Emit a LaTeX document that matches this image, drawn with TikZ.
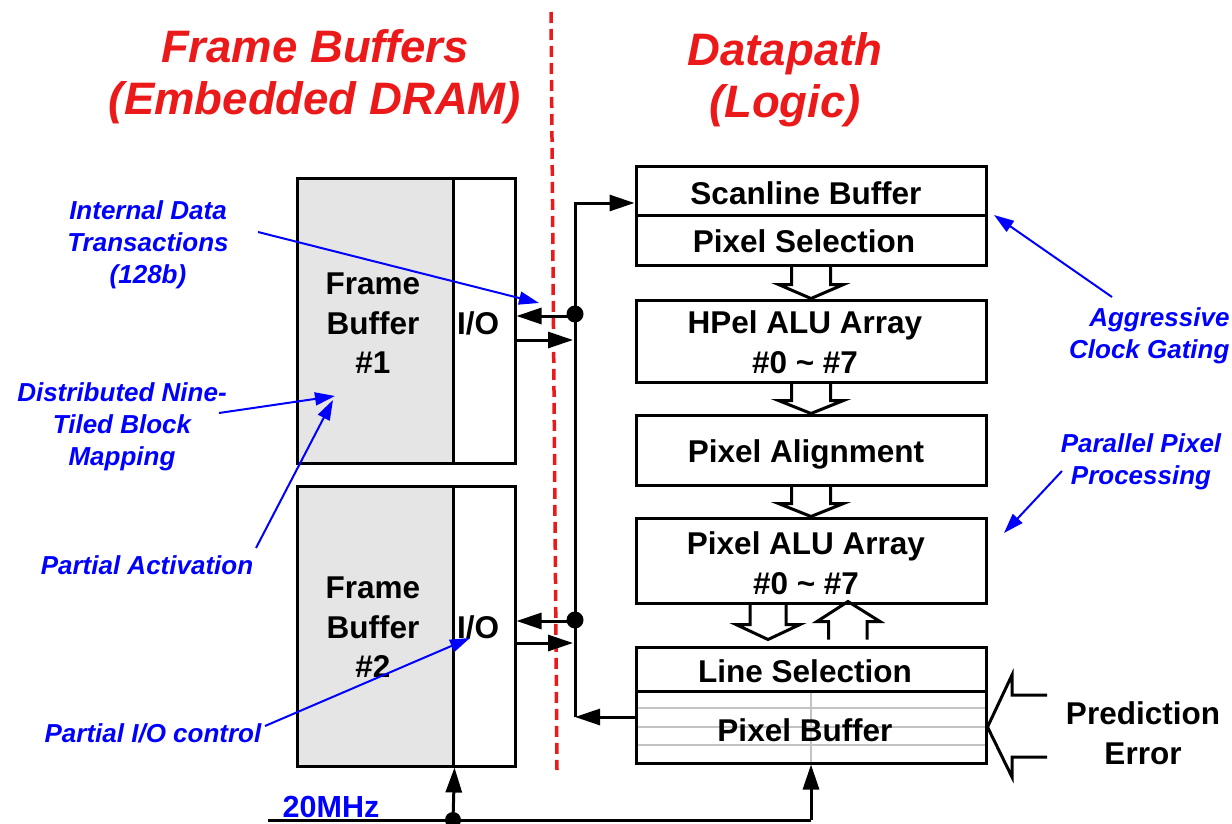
\documentclass[tikz,border=0pt]{standalone}
\usepackage{fontspec}
\setmainfont{Liberation Sans}
\usetikzlibrary{arrows.meta}
\definecolor{tred}{RGB}{235,25,25}
\definecolor{tblue}{RGB}{0,0,255}
\definecolor{fbgray}{RGB}{229,229,229}
\definecolor{gridgray}{RGB}{195,195,195}
\begin{document}
\begin{tikzpicture}[x=1pt,y=-1pt,line join=miter,
  blk/.style={draw,line width=3pt,minimum width=350pt,inner sep=0pt},
  fbk/.style={draw,line width=3pt,inner sep=0pt},
  txt/.style={inner sep=0pt,align=center,font=\fontsize{31.5}{39.5}\selectfont\bfseries},
  arr/.style={line width=3pt,-{Triangle[length=25pt,width=16pt]}},
  barr/.style={tblue,line width=2pt,-{Triangle[length=20pt,width=13pt]}},
  note/.style={tblue,align=center,font=\fontsize{26}{32}\selectfont\bfseries\itshape},
  ttl/.style={tred,align=center,font=\fontsize{45.5}{52}\selectfont\bfseries\itshape},
  hollow/.style={line width=3pt}]
\useasboundingbox (0,0) rectangle (1232,824);

% titles
\node[ttl] (t1) at (315,77) {Frame Buffers\\(Embedded DRAM)};
\node[ttl] (t2) at (785,80) {Datapath\\(Logic)};

% red divider
\draw[tred,line width=3.5pt,dash pattern=on 11pt off 6pt] (551,12) -- (557,770);

% frame buffers
\node[fbk,fill=fbgray,minimum width=156pt,minimum height=284pt] (fb1) at (375,321) {};
\node[fbk,minimum width=62pt,minimum height=284pt] (io1) at (484,321) {};
\node[fbk,fill=fbgray,minimum width=156pt,minimum height=280pt] (fb2) at (375,626) {};
\node[fbk,minimum width=62pt,minimum height=280pt] (io2) at (484,626) {};
\node[txt] (fb1t) at ([xshift=-2pt,yshift=-2.5pt]fb1.center) {Frame\\Buffer\\\#1};
\node[txt] (io1t) at ([xshift=-6pt,yshift=-2pt]io1.center) {I/O};
\node[txt] (fb2t) at ([xshift=-2pt,yshift=-1.5pt]fb2.center) {Frame\\Buffer\\\#2};
\node[txt] (io2t) at ([xshift=-6pt,yshift=-1pt]io2.center) {I/O};

% datapath blocks
\node[blk,minimum height=48pt] (sb) at (811,191) {};
\node[blk,minimum height=50pt] (ps) at (811,240) {};
\node[blk,minimum height=82pt] (hp) at (811,341) {};
\node[blk,minimum height=70pt] (pa) at (811,450) {};
\node[blk,minimum height=85pt] (pxa) at (811,560.5) {};
\node[blk,minimum height=44pt] (ls) at (811,669) {};
% pixel buffer grid
\draw[gridgray,line width=2.5pt] (636,708) -- (986,708) (636,727) -- (986,727) (636,745) -- (986,745)
  (811,691) -- (811,763);
\node[blk,minimum height=72pt] (pb) at (811,727) {};

\node[txt] (sbt) at ([xshift=-5pt,yshift=-2pt]sb.center) {Scanline Buffer};
\node[txt] (pst) at ([xshift=-7pt,yshift=-1pt]ps.center) {Pixel Selection};
\node[txt] (hpt) at ([xshift=-6pt,yshift=-1pt]hp.center) {HPel ALU Array\\\#0 \textasciitilde{} \#7};
\node[txt] (pat) at ([xshift=-5pt,yshift=-4pt]pa.center) {Pixel Alignment};
\node[txt] (pxat) at ([xshift=-5pt,yshift=-2.5pt]pxa.center) {Pixel ALU Array\\\#0 \textasciitilde{} \#7};
\node[txt] (lst) at ([xshift=-6pt,yshift=-2pt]ls.center) {Line Selection};
\node[txt] (pbt) at ([xshift=-6pt,yshift=-3pt]pb.center) {Pixel Buffer};

% hollow arrows between blocks
\draw[hollow] ([xshift=-19.5pt]ps.south) -- ([xshift=-19.5pt,yshift=14pt]hp.north)
  -- ([xshift=-32.5pt,yshift=14pt]hp.north) -- (hp.north)
  -- ([xshift=32.5pt,yshift=14pt]hp.north) -- ([xshift=19.5pt,yshift=14pt]hp.north)
  -- ([xshift=19.5pt]ps.south);
\draw[hollow] ([xshift=-19.5pt]hp.south) -- ([xshift=-19.5pt,yshift=13pt]pa.north)
  -- ([xshift=-32.5pt,yshift=13pt]pa.north) -- (pa.north)
  -- ([xshift=32.5pt,yshift=13pt]pa.north) -- ([xshift=19.5pt,yshift=13pt]pa.north)
  -- ([xshift=19.5pt]hp.south);
\draw[hollow] ([xshift=-19.5pt]pa.south) -- ([xshift=-19.5pt,yshift=13pt]pxa.north)
  -- ([xshift=-32.5pt,yshift=13pt]pxa.north) -- (pxa.north)
  -- ([xshift=32.5pt,yshift=13pt]pxa.north) -- ([xshift=19.5pt,yshift=13pt]pxa.north)
  -- ([xshift=19.5pt]pa.south);
% down / up arrows between pixel ALU array and line selection
\draw[hollow] ([xshift=-61pt]pxa.south) -- ([xshift=-61pt,yshift=-20pt]pxa.south)
  -- ([xshift=-75pt,yshift=-20pt]pxa.south) -- ([xshift=-43pt,yshift=-35pt]pxa.south)
  -- ([xshift=-11pt,yshift=-20pt]pxa.south) -- ([xshift=-25pt,yshift=-20pt]pxa.south)
  -- ([xshift=-25pt]pxa.south);
\draw[hollow] ([xshift=17.5pt,yshift=6pt]ls.north) -- ([xshift=17.5pt,yshift=24pt]ls.north)
  -- ([xshift=6pt,yshift=24pt]ls.north) -- ([xshift=37pt,yshift=44pt]ls.north)
  -- ([xshift=69pt,yshift=24pt]ls.north) -- ([xshift=56pt,yshift=24pt]ls.north)
  -- ([xshift=56pt,yshift=6pt]ls.north);

% prediction error
\node[txt] (pe) at (1143,733) {Prediction\\Error};
\draw[hollow] (1047,695) -- (1012,695) -- (1012,675) -- (pb.east) -- (1012,777) -- (1012,757) -- (1047,757);

% bus
\coordinate (bt) at (575,203);
\coordinate (bb) at (575,717);
\draw[arr] (bb) -- (bt) -- (bt -| sb.west);
\draw[arr] (bb -| pb.west) -- (bb);
\coordinate (d1) at (575,314);
\coordinate (d2) at (575,620);
\fill (d1) circle (8.5);
\fill (d2) circle (8.5);
\coordinate (a1) at (575,316);
\coordinate (b1) at (573,340);
\coordinate (a2) at (575,621);
\coordinate (b2) at (573,643);
\draw[arr] (a1) -- (a1 -| io1.east);
\draw[arr] (b1 -| io1.east) -- (b1);
\draw[arr] (a2) -- (a2 -| io2.east);
\draw[arr] (b2 -| io2.east) -- (b2);

% clock
\coordinate (ck0) at (268,820);
\coordinate (ckd) at (453,820);
\draw[line width=3pt] (ck0) -- (ck0 -| pb.south);
\draw[arr] (ck0 -| pb.south) -- (pb.south);
\draw[arr] (ckd) -- (fb2.south east);
\fill (ckd) circle (8);
\node[tblue,font=\fontsize{30.5}{36}\selectfont\bfseries,anchor=base] (clk) at (331,817) {20MHz};

% annotations
\node[note] (n1) at (148,245) {Internal Data\\Transactions\\(128b)};
\coordinate (n1s) at (258,232); \coordinate (n1t) at (539,303);
\draw[barr] (n1s) -- (n1t);
\node[note] (n2) at (122,427) {Distributed Nine-\\Tiled Block\\Mapping};
\coordinate (n2s) at (219,413); \coordinate (n2t) at (335,396);
\draw[barr] (n2s) -- (n2t);
\node[note] (n3) at (147,565) {Partial Activation};
\coordinate (n3s) at (256,548); \coordinate (n3t) at (333,400);
\draw[barr] (n3s) -- (n3t);
\node[note] (n4) at (153,733) {Partial I/O control};
\coordinate (n4s) at (265,726); \coordinate (n4t) at (470,638);
\draw[barr] (n4s) -- (n4t);
\node[note,align=right,anchor=east] (n5) at (1233,336) {Aggressive\\Clock Gating};
\coordinate (n5s) at (1112,297); \coordinate (n5t) at (994,215);
\draw[barr] (n5s) -- (n5t);
\node[note] (n6) at (1141,462) {Parallel Pixel\\Processing};
\coordinate (n6s) at (1062,471); \coordinate (n6t) at (1004,533);
\draw[barr] (n6s) -- (n6t);
\end{tikzpicture}
\end{document}
